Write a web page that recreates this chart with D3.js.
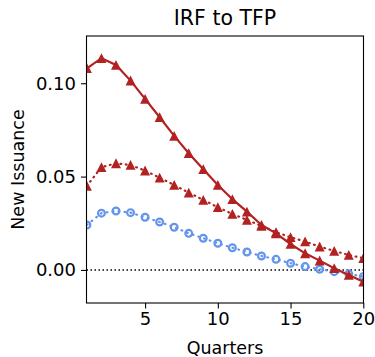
<!DOCTYPE html>
<html>
<head>
<meta charset="utf-8">
<script src="https://cdn.jsdelivr.net/npm/d3@7"></script>
<style>
  html, body { margin: 0; padding: 0; background: #fff; }
  svg { display: block; font-family: "DejaVu Sans", sans-serif; }
</style>
</head>
<body>
<svg id="chart" width="375" height="357"></svg>
<script>
// Impulse responses of new issuance to a TFP shock, quarters 1..20
const quarters = d3.range(1, 21);
const solidRed = [0.1080, 0.1134, 0.1098, 0.1014, 0.0916, 0.0818, 0.0718, 0.0625, 0.0539, 0.0455,
                  0.0379, 0.0312, 0.0241, 0.0196, 0.0139, 0.0089, 0.0050, 0.0009, -0.0027, -0.0063];
const dottedRed = [0.0450, 0.0550, 0.0571, 0.0562, 0.0532, 0.0494, 0.0455, 0.0414, 0.0375, 0.0336,
                   0.0300, 0.0268, 0.0236, 0.0202, 0.0175, 0.0152, 0.0125, 0.0102, 0.0080, 0.0063];
const blueSeries = [0.0241, 0.0304, 0.0316, 0.0307, 0.0282, 0.0257, 0.0229, 0.0196, 0.0170, 0.0143,
                    0.0119, 0.0096, 0.0075, 0.0057, 0.0036, 0.0018, 0.0004, -0.0009, -0.0021, -0.0036];
const xTicks = [5, 10, 15, 20];
const yTicks = [0.00, 0.05, 0.10];

const svg = d3.select("#chart");
const plot = { left: 86.5, right: 363.5, top: 36, bottom: 303 };

const x = d3.scaleLinear().domain([1, 20]).range([86.9, 363.3]);
const y = d3.scaleLinear().domain([-0.0177, 0.1253]).range([plot.bottom, plot.top]);

const red = "#b22222";
const blue = "#6495ed";

// zero reference line
svg.append("line")
  .attr("x1", plot.left).attr("x2", plot.right)
  .attr("y1", y(0)).attr("y2", y(0))
  .attr("stroke", "#000").attr("stroke-width", 1.5)
  .attr("stroke-dasharray", "1.5,2.5");

svg.append("clipPath").attr("id", "plotclip")
  .append("rect")
  .attr("x", plot.left).attr("y", plot.top)
  .attr("width", plot.right - plot.left).attr("height", plot.bottom - plot.top);

const g = svg.append("g").attr("clip-path", "url(#plotclip)");

const line = d3.line().x((d, i) => x(quarters[i])).y(d => y(d));
const tri = "M0,-5L-5,4.8L5,4.8Z";

function series(values, color, dash, marker) {
  g.append("path").datum(values)
    .attr("d", line)
    .attr("fill", "none")
    .attr("stroke", color)
    .attr("stroke-width", 2.2)
    .attr("stroke-linecap", dash ? "round" : "butt")
    .attr("stroke-dasharray", dash);
  const m = g.append("g").selectAll(null).data(values).join(marker === "tri" ? "path" : "circle");
  if (marker === "tri") {
    m.attr("d", tri)
     .attr("transform", (d, i) => `translate(${x(quarters[i])},${y(d)})`)
     .attr("fill", color);
  } else {
    m.attr("cx", (d, i) => x(quarters[i])).attr("cy", d => y(d))
     .attr("r", 3.4)
     .attr("fill", "none")
     .attr("stroke", color).attr("stroke-width", 2.2);
  }
}

series(blueSeries, blue, "0.8,5.2", "circle");
series(dottedRed, red, "0.8,4.6", "tri");
series(solidRed, red, null, "tri");

// frame
svg.append("rect")
  .attr("x", plot.left).attr("y", plot.top)
  .attr("width", plot.right - plot.left).attr("height", plot.bottom - plot.top)
  .attr("fill", "none").attr("stroke", "#000").attr("stroke-width", 1.1);

// axes
const xAxis = svg.append("g")
  .attr("transform", `translate(0,${plot.bottom})`)
  .call(d3.axisBottom(x).tickValues(xTicks).tickSize(5.5).tickPadding(4).tickFormat(d3.format("d")));
const yAxis = svg.append("g")
  .attr("transform", `translate(${plot.left},0)`)
  .call(d3.axisLeft(y).tickValues(yTicks).tickSize(5.5).tickPadding(5).tickFormat(d3.format(".2f")));
[xAxis, yAxis].forEach(a => {
  a.select(".domain").remove();
  a.selectAll("line").attr("stroke", "#000").attr("stroke-width", 1.1);
  a.selectAll("text").attr("fill", "#000").style("font-size", "18px")
   .style("font-family", "DejaVu Sans, sans-serif");
});

// title and axis labels
svg.append("text")
  .attr("x", (plot.left + plot.right) / 2).attr("y", 25)
  .attr("text-anchor", "middle").style("font-size", "20.5px")
  .text("IRF to TFP");
svg.append("text")
  .attr("x", (plot.left + plot.right) / 2).attr("y", 354)
  .attr("text-anchor", "middle").style("font-size", "17.5px")
  .text("Quarters");
svg.append("text")
  .attr("transform", `translate(24,${(plot.top + plot.bottom) / 2}) rotate(-90)`)
  .attr("text-anchor", "middle").style("font-size", "17.5px")
  .text("New Issuance");
</script>
</body>
</html>
